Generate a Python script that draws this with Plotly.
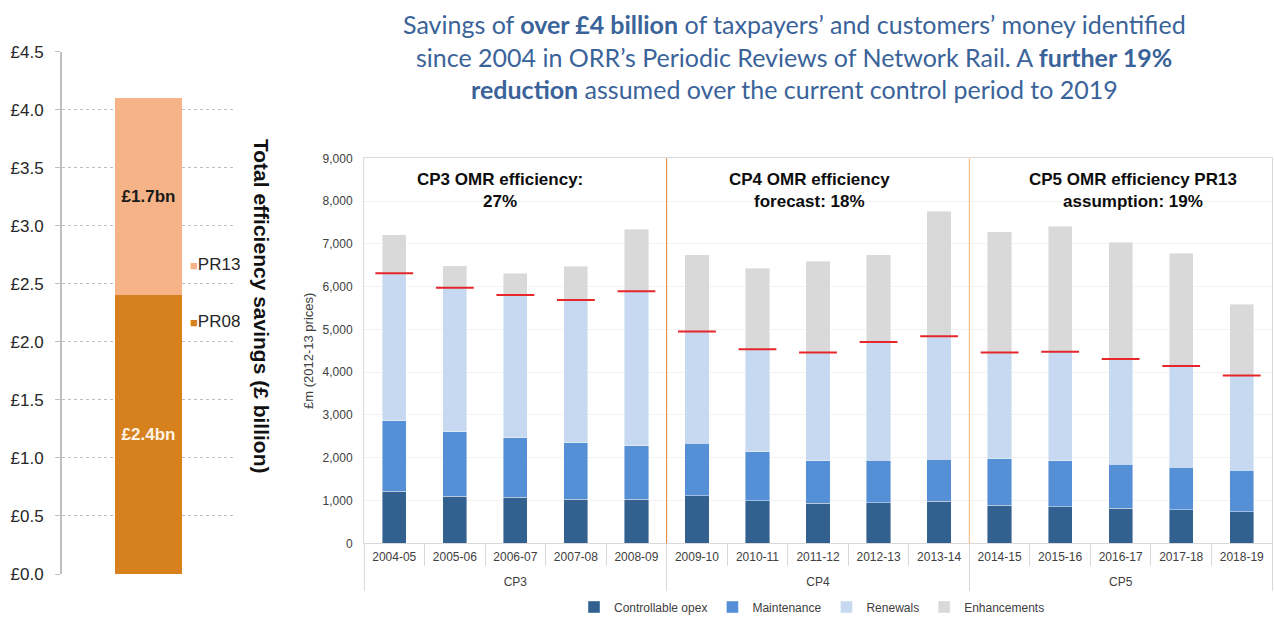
import plotly.graph_objects as go

# ---------------- data ----------------
# Left chart: total efficiency savings (£ billion)
pr_labels = ["PR08", "PR13"]
pr_values = [2.4, 1.7]
pr_colors = ["#D6801E", "#F5B387"]
pr_text_colors = ["#FFF3E6", "#1A1A1A"]

# Right chart: £m (2012-13 prices)
periods = ["CP3"] * 5 + ["CP4"] * 5 + ["CP5"] * 5
years = ["2004-05", "2005-06", "2006-07", "2007-08", "2008-09",
         "2009-10", "2010-11", "2011-12", "2012-13", "2013-14",
         "2014-15", "2015-16", "2016-17", "2017-18", "2018-19"]
controllable_opex = [1220, 1100, 1075, 1030, 1030, 1115, 990, 935, 945, 980, 890, 855, 820, 785, 740]
maintenance = [1640, 1510, 1395, 1315, 1250, 1225, 1150, 990, 995, 985, 1090, 1070, 1025, 990, 965]
renewals = [3450, 3365, 3335, 3345, 3610, 2610, 2395, 2535, 2765, 2875, 2480, 2555, 2465, 2370, 2215]
enhancements = [900, 515, 505, 785, 1450, 1790, 1895, 2130, 2035, 2920, 2825, 2930, 2725, 2640, 1665]

series_names = ["Controllable opex", "Maintenance", "Renewals", "Enhancements"]
series_colors = ["#32608F", "#558FD6", "#C6D9F0", "#D9D9D9"]

cp_notes = ["<b>CP3 OMR efficiency:<br>27%</b>",
            "<b>CP4 OMR efficiency<br>forecast: 18%</b>",
            "<b>CP5 OMR efficiency PR13<br>assumption: 19%</b>"]

title_lines = [
    "Savings of <b>over £4 billion</b> of taxpayers’ and customers’ money identified",
    "since 2004 in ORR’s Periodic Reviews of Network Rail. A <b>further 19%</b>",
    "<b>reduction</b> assumed over the current control period to 2019",
]

# group structure for the period axis (derived from the periods list)
group_names = []
for p in periods:
    if p not in group_names:
        group_names.append(p)
group_start = [periods.index(g) for g in group_names]
group_end = [len(periods) - 1 - periods[::-1].index(g) for g in group_names]
group_centers = [(s + e) / 2 for s, e in zip(group_start, group_end)]
group_bounds = [s - 0.5 for s in group_start] + [group_end[-1] + 0.5]

# ---------------- figure ----------------
W, H = 1274, 618
fig = go.Figure()

# left stacked bar
for lab, val, col, tcol in zip(pr_labels, pr_values, pr_colors, pr_text_colors):
    fig.add_trace(go.Bar(
        x=["Total"], y=[val], name=lab, marker=dict(color=col, line=dict(width=0)),
        text=[f"£{val}bn"], textposition="inside", insidetextanchor="middle",
        textfont=dict(size=17, color=tcol, family="Liberation Sans, Arial"),
        texttemplate="<b>%{text}</b>",
        width=0.39, xaxis="x", yaxis="y", showlegend=False, hoverinfo="skip"))

# right stacked bars
for name, vals, col in zip(series_names, [controllable_opex, maintenance, renewals, enhancements], series_colors):
    fig.add_trace(go.Bar(
        x=years, y=vals, name=name, width=0.4,
        marker=dict(color=col, line=dict(width=0.6, color="rgba(255,255,255,0.7)")),
        xaxis="x2", yaxis="y2"))

omr = [c + m + r for c, m, r in zip(controllable_opex, maintenance, renewals)]
fig.add_trace(go.Scatter(
    x=years, y=omr, mode="markers",
    marker=dict(symbol="line-ew", size=27, line=dict(width=2, color="#E5262B")),
    xaxis="x2", yaxis="y2", showlegend=False, hoverinfo="skip"))

# invisible carrier trace for the period (group) axis
fig.add_trace(go.Scatter(
    x=group_centers, y=[0] * len(group_centers), mode="markers",
    marker=dict(opacity=0, size=1), xaxis="x3", yaxis="y2",
    showlegend=False, hoverinfo="skip"))

# right chart domain
x2d = [364 / W, 1272 / W]
y2d = [1 - 543.3 / H, 1 - 158.3 / H]

annotations = []
# title
for txt, yy in zip(title_lines, [24, 57, 89]):
    annotations.append(dict(text=txt, x=794 / W, y=1 - yy / H, xref="paper", yref="paper",
                            xanchor="center", yanchor="middle", showarrow=False,
                            font=dict(family="Lato", size=25, color="#3A639A")))
# CP notes
for txt, xc in zip(cp_notes, [500, 810, 1133]):
    annotations.append(dict(text=txt, x=xc / W, y=1 - 190 / H, xref="paper", yref="paper",
                            xanchor="center", yanchor="middle", showarrow=False,
                            font=dict(family="Liberation Sans, Arial", size=17, color="#0D0D0D")))
# left legend
for lab, col, yy in zip(pr_labels, pr_colors, [321, 264]):
    annotations.append(dict(text=f"<span style='color:{col};font-size:13px'>■</span>{lab}",
                            x=188 / W, y=1 - yy / H, xref="paper", yref="paper",
                            xanchor="left", yanchor="middle", showarrow=False,
                            font=dict(family="Liberation Sans, Arial", size=17, color="#262626")))
# left rotated title
annotations.append(dict(text="<b>Total efficiency savings (£ billion)</b>",
                        x=262 / W, y=1 - 306 / H, xref="paper", yref="paper",
                        xanchor="center", yanchor="middle", showarrow=False, textangle=90,
                        font=dict(family="Liberation Sans, Arial", size=21, color="#111111")))

shapes = []
for b, col in zip(group_bounds[1:-1], ["#E07F22", "#F3B27A"]):
    shapes.append(dict(type="line", xref="x2", yref="y2 domain", x0=b, x1=b,
                       y0=0, y1=1, line=dict(color=col, width=1)))

fig.update_layout(
    width=W, height=H, margin=dict(l=0, r=0, t=0, b=0, autoexpand=False),
    paper_bgcolor="white", plot_bgcolor="white",
    barmode="stack",
    font=dict(family="Liberation Sans, Arial", color="#404040"),
    xaxis=dict(domain=[62 / W, 235 / W], range=[-0.5, 0.5], type="category",
               showticklabels=False, showgrid=False, zeroline=False, showline=False, ticks=""),
    yaxis=dict(domain=[1 - 574 / H, 1 - 51.7 / H], range=[0, 4.5], dtick=0.5,
               tickformat=".1f", tickprefix="£", ticks="outside", ticklen=5, tickcolor="#BFBFBF",
               ticklabelstandoff=8,
               tickfont=dict(size=17, color="#262626"), showgrid=True, gridcolor="#BFBFBF",
               griddash="dot", gridwidth=1, zeroline=False, showline=True, linecolor="#BFBFBF",
               linewidth=2),
    xaxis2=dict(domain=x2d, type="category", anchor="y2", range=[-0.5, len(years) - 0.5],
                showline=True, mirror=True, linecolor="#D9D9D9", tickson="boundaries",
                ticks="outside", ticklen=22, tickcolor="#D9D9D9",
                tickfont=dict(size=12, color="#404040"), showgrid=False, ticklabelstandoff=2),
    xaxis3=dict(overlaying="x2", anchor="y2", side="bottom", range=[-0.5, len(years) - 0.5],
                tickmode="array", tickvals=group_centers, ticktext=group_names, ticks="",
                showgrid=False, zeroline=False, showline=False, ticklabelstandoff=30,
                tickfont=dict(size=12, color="#404040"),
                minor=dict(tickmode="array", tickvals=group_bounds, ticks="outside",
                           ticklen=47, tickcolor="#D9D9D9", tickwidth=1, showgrid=False)),
    yaxis2=dict(domain=y2d, anchor="x2", range=[0, 9000], dtick=1000, tickformat=",",
                tickfont=dict(size=12, color="#404040"), showgrid=True, gridcolor="#F2F2F2",
                zeroline=False, showline=True, mirror=True, linecolor="#D9D9D9",
                ticklabelstandoff=8,
                title=dict(text="£m (2012-13 prices)", font=dict(size=13, color="#404040"), standoff=6)),
    legend=dict(orientation="h", x=812 / W, xanchor="center", y=1 - 607 / H, yanchor="middle",
                font=dict(size=12, color="#404040"), itemwidth=30, traceorder="normal",
                bgcolor="rgba(0,0,0,0)"),
    annotations=annotations,
    shapes=shapes,
)

fig.write_html("out.html")
